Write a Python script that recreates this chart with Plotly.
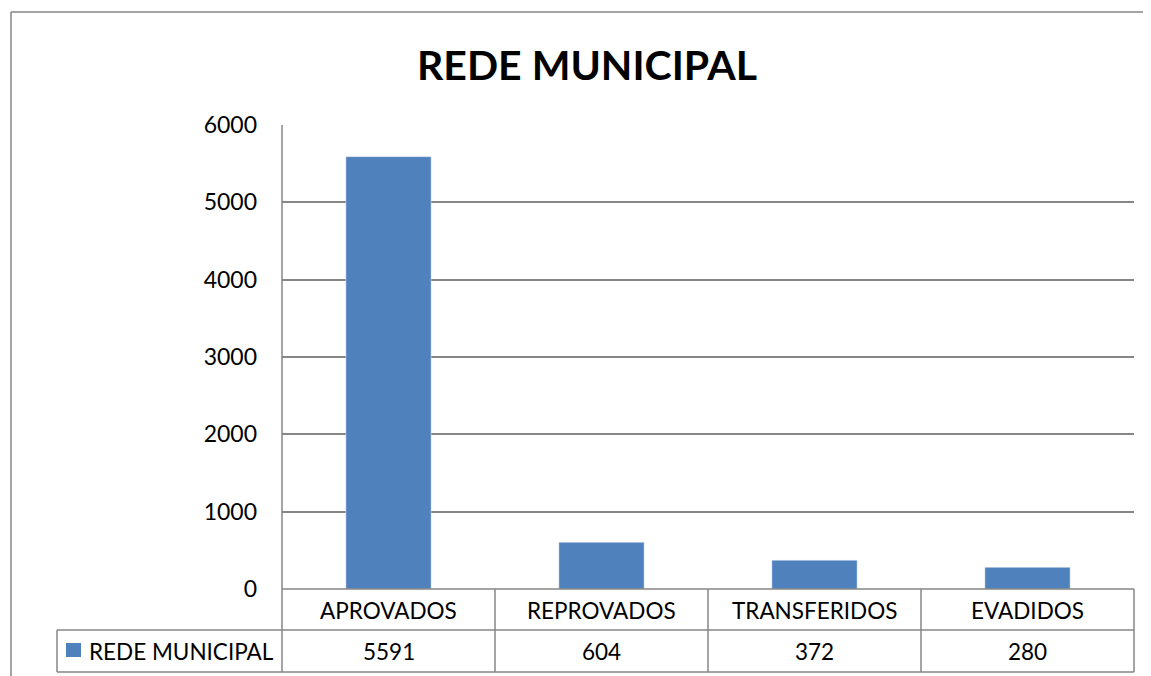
import plotly.graph_objects as go

categories = ["APROVADOS", "REPROVADOS", "TRANSFERIDOS", "EVADIDOS"]
values = [5591, 604, 372, 280]
series_name = "REDE MUNICIPAL"
title_text = "REDE MUNICIPAL"
y_ticks = [0, 1000, 2000, 3000, 4000, 5000, 6000]

OFF = 8  # page body margin in the browser
W, H = 1151 - OFF, 676 - OFF
L, R, T, B = 282 - OFF, 1134 - OFF, 125 - OFF, 589 - OFF
BLUE = "#4F81BD"
GRID = "#868686"
FONT = "Lato"


def px(x):
    return (x - OFF - L) / (R - L)


def py(y):
    return (B - (y - OFF)) / (B - T)


fig = go.Figure(go.Bar(x=categories, y=values, marker_color=BLUE, width=0.4,
                       name=series_name, showlegend=False))

shapes = []


def line(x0, y0, x1, y1, w=1.5):
    shapes.append(dict(type="line", xref="paper", yref="paper",
                       x0=px(x0), y0=py(y0), x1=px(x1), y1=py(y1),
                       line=dict(color=GRID, width=w)))


# outer chart frame (only top and left edges are within view)
line(11, 12, 1200, 12)
line(11, 12, 11, 720)
# table lines
n = len(categories)
cw = (1134 - 282) / n
line(282, 125, 282, 672)
line(282, 589, 1134, 589)
line(57, 630, 1134, 630)
line(57, 672, 1134, 672)
line(57, 630, 57, 672)
for i in range(1, n + 1):
    line(282 + i * cw, 589, 282 + i * cw, 672)
# legend key
shapes.append(dict(type="rect", xref="paper", yref="paper",
                   x0=px(66), y0=py(643), x1=px(81), y1=py(657),
                   fillcolor=BLUE, line=dict(width=0)))

TF = dict(size=22.5, color="black", family=FONT)
annotations = []
for c, v in zip(categories, values):
    annotations.append(dict(x=c, xref="x", y=py(610), yref="paper", text=c,
                            xanchor="center", yanchor="middle",
                            showarrow=False, font=TF))
    annotations.append(dict(x=c, xref="x", y=py(651), yref="paper", text=str(v),
                            xanchor="center", yanchor="middle",
                            showarrow=False, font=TF))
annotations.append(dict(x=px(87), xref="paper", y=py(651), yref="paper", text=series_name,
                        xanchor="left", yanchor="middle", showarrow=False, font=TF))
annotations.append(dict(x=px(587), xref="paper", y=py(64), yref="paper", text="<b>" + title_text + "</b>",
                        xanchor="center", yanchor="middle",
                        showarrow=False, font=dict(size=41, color="black", family=FONT)))

fig.update_layout(
    width=W, height=H,
    margin=dict(l=L, r=W - R, t=T, b=H - B),
    paper_bgcolor="white", plot_bgcolor="white",
    shapes=shapes, annotations=annotations,
    bargap=0.6,
    xaxis=dict(showticklabels=False, showgrid=False, zeroline=False, showline=False, ticks=""),
    yaxis=dict(range=[0, 6000], tickvals=y_ticks, showgrid=True, gridcolor=GRID, gridwidth=1.5,
               zeroline=False, showline=False, ticks="", ticklabelstandoff=24,
               tickfont=dict(size=23, color="black", family=FONT)),
    font=dict(family=FONT),
)

fig.write_html("out.html", config={"displayModeBar": False})
